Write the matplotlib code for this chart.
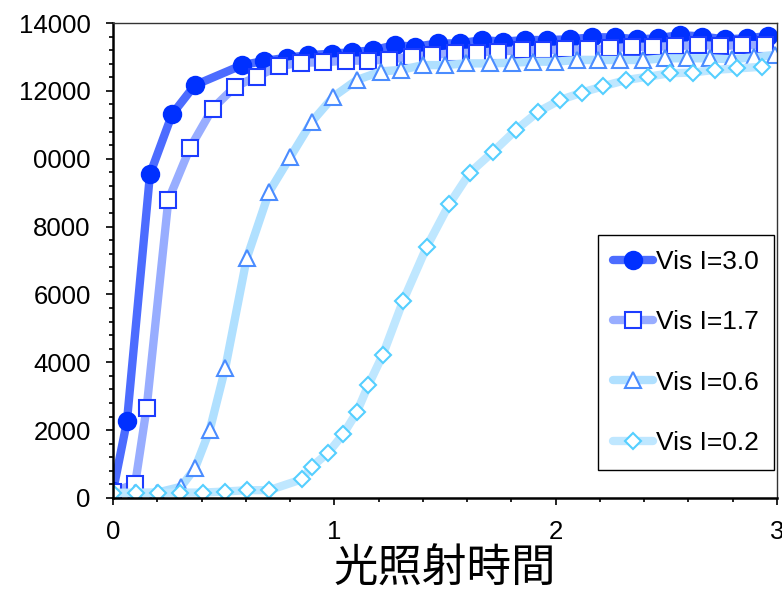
import matplotlib
matplotlib.use("Agg")
import matplotlib.pyplot as plt
from matplotlib.ticker import MultipleLocator, FixedLocator, FixedFormatter

plt.rcParams['font.family'] = ['Liberation Sans', 'Noto Sans CJK JP', 'DejaVu Sans']

# Irradiation-time series for four visible-light intensities
x_30 = [0.0, 0.063, 0.167, 0.267, 0.37, 0.583, 0.682, 0.786, 0.881, 0.99, 1.08, 1.175,
        1.274, 1.365, 1.469, 1.568, 1.667, 1.762, 1.862, 1.961, 2.065, 2.165, 2.268,
        2.368, 2.463, 2.562, 2.662, 2.765, 2.865, 2.96]
y_30 = [200, 2260, 9540, 11310, 12170, 12760, 12880, 12980, 13050, 13100, 13140, 13200,
        13350, 13300, 13400, 13400, 13500, 13450, 13500, 13500, 13520, 13580, 13580,
        13520, 13550, 13650, 13600, 13520, 13550, 13620]

x_17 = [0.0, 0.1, 0.152, 0.25, 0.348, 0.45, 0.551, 0.649, 0.751, 0.85, 0.95, 1.051,
        1.151, 1.245, 1.35, 1.44, 1.545, 1.643, 1.741, 1.847, 1.944, 2.043, 2.148,
        2.246, 2.344, 2.442, 2.54, 2.645, 2.743, 2.841, 2.947]
y_17 = [190, 410, 2660, 8780, 10320, 11480, 12120, 12420, 12730, 12830, 12840, 12890,
        12890, 12920, 13010, 13060, 13110, 13130, 13160, 13200, 13200, 13220, 13220,
        13250, 13300, 13300, 13320, 13350, 13320, 13350, 13350]

x_06 = [0.0, 0.1, 0.2, 0.307, 0.37, 0.437, 0.507, 0.604, 0.706, 0.8, 0.898, 0.996,
        1.101, 1.21, 1.303, 1.401, 1.499, 1.597, 1.703, 1.801, 1.899, 1.997, 2.095,
        2.193, 2.291, 2.396, 2.494, 2.592, 2.698, 2.796, 2.894, 2.992]
y_06 = [150, 150, 160, 330, 870, 2000, 3820, 7060, 9030, 10040, 11090, 11830,
        12320, 12570, 12620, 12760, 12760, 12810, 12810, 12830, 12860, 12860, 12910,
        12910, 12910, 12910, 12960, 12960, 12960, 12930, 12990, 13060]

x_02 = [0.0, 0.104, 0.205, 0.303, 0.405, 0.506, 0.604, 0.706, 0.853, 0.898, 0.973, 1.041,
        1.101, 1.154, 1.219, 1.31, 1.418, 1.52, 1.613, 1.718, 1.821, 1.922, 2.02,
        2.118, 2.216, 2.318, 2.419, 2.517, 2.619, 2.72, 2.818, 2.931]
y_02 = [150, 150, 150, 160, 160, 190, 230, 230, 550, 920, 1340, 1890,
        2520, 3330, 4220, 5800, 7410, 8670, 9590, 10210, 10850, 11390, 11730,
        11950, 12140, 12320, 12420, 12520, 12540, 12620, 12660, 12710]

labels = ["Vis I=3.0", "Vis I=1.7", "Vis I=0.6", "Vis I=0.2"]
y_ticks = [0, 2000, 4000, 6000, 8000, 10000, 12000, 14000]
y_tick_labels = ["0", "2000", "4000", "6000", "8000", "0000", "12000", "14000"]
x_ticks = [0, 1, 2, 3]
x_tick_labels = ["0", "1", "2", "3"]
x_label = "光照射時間"

fig = plt.figure(figsize=(7.82, 5.92), dpi=100)
ax = fig.add_axes([0.1445, 0.1588, 0.8491, 0.8023])

common = dict(linewidth=6, solid_capstyle='round', solid_joinstyle='round',
              markeredgewidth=1.5)
ax.plot(x_30, y_30, color='#4c6cff', marker='o', markersize=12.5,
        markerfacecolor='#0030ff', markeredgecolor='#0030ff', label=labels[0], **common)
ax.plot(x_17, y_17, color='#98adff', marker='s', markersize=11,
        markerfacecolor='white', markeredgecolor='#1c3cff', label=labels[1], **common)
ax.plot(x_06, y_06, color='#b0e0ff', marker='^', markersize=12,
        markerfacecolor='white', markeredgecolor='#4a8cff', label=labels[2], **common)
ax.plot(x_02, y_02, color='#bfe7ff', marker='D', markersize=8.5,
        markerfacecolor='white', markeredgecolor='#55cfff', label=labels[3], **common)

ax.set_xlim(0, 3)
ax.set_ylim(0, 14000)
ax.xaxis.set_major_locator(FixedLocator(x_ticks))
ax.xaxis.set_major_formatter(FixedFormatter(x_tick_labels))
ax.xaxis.set_minor_locator(MultipleLocator(0.2))
ax.yaxis.set_major_locator(FixedLocator(y_ticks))
ax.yaxis.set_major_formatter(FixedFormatter(y_tick_labels))
ax.yaxis.set_minor_locator(MultipleLocator(400))

ax.tick_params(which='both', direction='out', top=False, right=False,
               width=1.2, colors='black')
ax.tick_params(which='major', length=5, labelsize=18.5, pad=11)
ax.tick_params(which='minor', length=3)
for side in ['left', 'bottom']:
    ax.spines[side].set_linewidth(1.8)
for side in ['top', 'right']:
    ax.spines[side].set_linewidth(1.0)
    ax.spines[side].set_color('#333333')

ax.set_xlabel(x_label, fontsize=32, family=['Noto Sans CJK JP'], labelpad=1)

leg = ax.legend(loc='upper left', bbox_to_anchor=(0.7304, 0.5537), fontsize=19,
                handlelength=1.5, handletextpad=0.1, labelspacing=1.37,
                borderpad=0.58, borderaxespad=0, fancybox=False, framealpha=1,
                edgecolor='black')
leg.get_frame().set_linewidth(1.0)

fig.savefig('out.png', dpi=100)
